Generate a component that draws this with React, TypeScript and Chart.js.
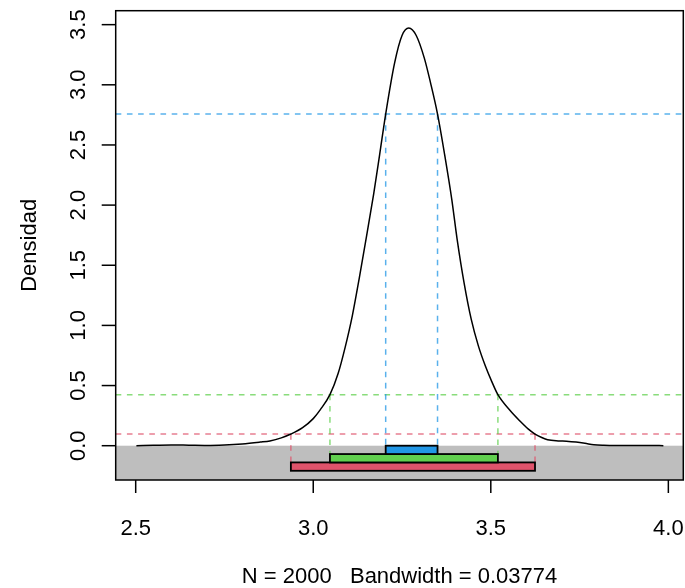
import React, { useEffect, useRef } from "react";
import Chart from "chart.js/auto";

// ---- data ----
const densityX = [
  2.502, 2.55, 2.6, 2.65, 2.7, 2.75, 2.8, 2.85, 2.878, 2.91, 2.937, 2.97, 3.0, 3.02, 3.047, 3.07,
  3.09, 3.11, 3.13, 3.15, 3.17, 3.187, 3.204, 3.229, 3.25, 3.269, 3.29, 3.313, 3.33, 3.35, 3.37,
  3.39, 3.405, 3.425, 3.445, 3.465, 3.485, 3.5025, 3.52, 3.555, 3.582, 3.605, 3.6245, 3.645, 3.66,
  3.69, 3.713, 3.74, 3.765, 3.79, 3.818, 3.85, 3.9, 3.95, 3.986,
];
const densityY = [
  0.0, 0.003, 0.006, 0.004, 0.002, 0.006, 0.015, 0.03, 0.04, 0.065, 0.097, 0.15, 0.225, 0.3, 0.424, 0.6,
  0.82, 1.08, 1.4, 1.74, 2.09, 2.42, 2.757, 3.18, 3.41, 3.472, 3.41, 3.22, 3.02, 2.757, 2.42,
  2.05, 1.72, 1.35, 1.05, 0.83, 0.66, 0.535, 0.424, 0.29, 0.205, 0.14, 0.097, 0.066, 0.05,
  0.04, 0.037, 0.03, 0.02, 0.008, 0.003, 0.001, 0.001, 0.002, 0.0,
];
const hdrLabels = ["50%", "95%", "99%"];
const hdrLevel = [2.757, 0.424, 0.097];
const hdrLower = [3.204, 3.047, 2.937];
const hdrUpper = [3.35, 3.52, 3.6245];
const xTicks = [2.5, 3.0, 3.5, 4.0];
const yTicks = [0, 0.5, 1.0, 1.5, 2.0, 2.5, 3.0, 3.5];
const xTitle = "N = 2000   Bandwidth = 0.03774";
const yTitle = "Densidad";

// ---- styling / layout ----
const hdrColors = ["#2297E6", "#61D04F", "#DF536B"];
const hdrDashColors = ["rgba(34,151,230,0.75)", "rgba(97,208,79,0.75)", "rgba(223,83,107,0.75)"];
const X_MIN = 2.4437;
const X_MAX = 4.0421;
const Y_MIN = -0.2851;
const Y_MAX = 3.616;
const BOX_H = 0.0695;
const FONT = "22px 'Liberation Sans', Arial, Helvetica, sans-serif";

const decorPlugin = {
  id: "decor",
  beforeDatasetsDraw(chart: any) {
    const { ctx, chartArea } = chart;
    const ys = chart.scales.y;
    const y0 = ys.getPixelForValue(0);
    ctx.save();
    ctx.fillStyle = "#BEBEBE";
    ctx.fillRect(chartArea.left, y0, chartArea.right - chartArea.left, chartArea.bottom - y0);
    ctx.restore();
  },
  afterDatasetsDraw(chart: any) {
    const { ctx } = chart;
    const xs = chart.scales.x;
    const ys = chart.scales.y;
    ctx.save();
    for (let i = hdrLower.length - 1; i >= 0; i--) {
      const x1 = xs.getPixelForValue(hdrLower[i]);
      const x2 = xs.getPixelForValue(hdrUpper[i]);
      const yt = ys.getPixelForValue(-i * BOX_H);
      const yb = ys.getPixelForValue(-(i + 1) * BOX_H);
      ctx.fillStyle = hdrColors[i];
      ctx.fillRect(x1, yt, x2 - x1, yb - yt);
      ctx.strokeStyle = "#000";
      ctx.lineWidth = 1.8;
      ctx.strokeRect(x1, yt, x2 - x1, yb - yt);
    }
    ctx.restore();
  },
  afterDraw(chart: any) {
    const { ctx, chartArea } = chart;
    const xs = chart.scales.x;
    const ys = chart.scales.y;
    ctx.save();
    ctx.strokeStyle = "#000";
    ctx.lineWidth = 1.5;
    ctx.strokeRect(chartArea.left, chartArea.top, chartArea.right - chartArea.left, chartArea.bottom - chartArea.top);
    ctx.fillStyle = "#000";
    ctx.font = FONT;
    ctx.textAlign = "center";
    ctx.textBaseline = "alphabetic";
    for (const t of xTicks) {
      const px = xs.getPixelForValue(t);
      ctx.beginPath();
      ctx.moveTo(px, chartArea.bottom);
      ctx.lineTo(px, chartArea.bottom + 13);
      ctx.stroke();
      ctx.fillText(t.toFixed(1), px, 535);
    }
    for (const t of yTicks) {
      const py = ys.getPixelForValue(t);
      ctx.beginPath();
      ctx.moveTo(chartArea.left - 14, py);
      ctx.lineTo(chartArea.left, py);
      ctx.stroke();
      ctx.save();
      ctx.translate(85.4, py);
      ctx.rotate(-Math.PI / 2);
      ctx.fillText(t.toFixed(1), 0, 0);
      ctx.restore();
    }
    ctx.fillText(xTitle, (chartArea.left + chartArea.right) / 2, 583);
    ctx.save();
    ctx.translate(35.9, (chartArea.top + chartArea.bottom) / 2);
    ctx.rotate(-Math.PI / 2);
    ctx.fillText(yTitle, 0, 0);
    ctx.restore();
    ctx.restore();
  },
};

export default function App() {
  const ref = useRef<HTMLCanvasElement | null>(null);
  useEffect(() => {
    if (!ref.current) return;
    const datasets: any[] = [];
    datasets.push({
      label: "density",
      data: densityX.map((x, i) => ({ x, y: densityY[i] })),
      borderColor: "#000",
      borderWidth: 1.5,
      pointRadius: 0,
      cubicInterpolationMode: "monotone",
      fill: false,
    });
    for (let i = 0; i < hdrLevel.length; i++) {
      datasets.push({
        label: hdrLabels[i] + " level",
        data: [
          { x: X_MIN, y: hdrLevel[i] },
          { x: X_MAX, y: hdrLevel[i] },
        ],
        borderColor: hdrDashColors[i],
        borderWidth: 1.5,
        borderDash: [5.6, 5.6],
        pointRadius: 0,
        fill: false,
      });
      for (const xv of [hdrLower[i], hdrUpper[i]]) {
        datasets.push({
          label: hdrLabels[i] + " bound",
          data: [
            { x: xv, y: hdrLevel[i] },
            { x: xv, y: -i * BOX_H },
          ],
          borderColor: hdrDashColors[i],
          borderWidth: 1.5,
          borderDash: [5.6, 5.6],
          pointRadius: 0,
          fill: false,
        });
      }
    }
    const chart = new Chart(ref.current, {
      type: "line",
      data: { datasets },
      options: {
        animation: false,
        responsive: false,
        devicePixelRatio: 1,
        layout: { padding: { left: 115.7, top: 10.7, right: 1.7, bottom: 108 } },
        scales: {
          x: { type: "linear", min: X_MIN, max: X_MAX, display: false },
          y: { type: "linear", min: Y_MIN, max: Y_MAX, display: false },
        },
        plugins: { legend: { display: false }, tooltip: { enabled: false } },
      },
      plugins: [decorPlugin],
    } as any);
    return () => chart.destroy();
  }, []);
  return (
    <div style={{ position: "absolute", left: 0, top: 0, width: 685, height: 588, background: "#fff" }}>
      <canvas ref={ref} width={685} height={588} style={{ width: 685, height: 588, display: "block" }} />
    </div>
  );
}
